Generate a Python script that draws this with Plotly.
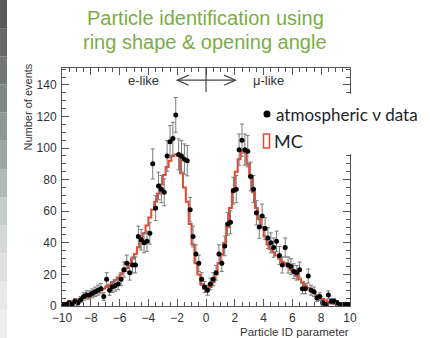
import numpy as np
import plotly.graph_objects as go

# ---------------- data ----------------
BIN_LO, BIN_HI, BIN_W = -10.0, 10.0, 0.2

data_counts = [
    1, 1, 2, 1, 3, 2, 4, 6, 7, 7,
    8, 9, 10, 11, 6, 17, 10, 12, 13, 14,
    17, 23, 27, 21, 26, 26, 44, 42, 40, 41,
    46, 90, 62, 76, 74, 72, 95, 104, 106, 121,
    96, 95, 93, 92, 61, 44, 33, 27, 17, 12,
    10, 14, 17, 21, 33, 27, 38, 52, 53, 73,
    74, 99, 105, 99, 98, 82, 74, 59, 50, 57,
    49, 43, 40, 37, 41, 32, 26, 37, 26, 25,
    22, 21, 23, 11, 11, 19, 10, 9, 5, 6,
    2, 1, 7, 3, 3, 2, 1, 1, 1, 1,
]

data_err = [
    1.0, 1.0, 1.4, 1.0, 1.7, 1.4, 2.0, 2.4, 2.6, 2.6,
    2.8, 3.0, 3.2, 3.3, 2.4, 4.1, 3.2, 3.5, 3.6, 3.7,
    4.1, 4.8, 5.2, 4.6, 5.1, 5.1, 6.6, 6.5, 6.3, 6.4,
    6.8, 9.5, 7.9, 8.7, 8.6, 8.5, 9.7, 10.2, 10.3, 11.0,
    9.8, 9.7, 9.6, 9.6, 7.8, 6.6, 5.7, 5.2, 4.1, 3.5,
    3.2, 3.7, 4.1, 4.6, 5.7, 5.2, 6.2, 7.2, 7.3, 8.5,
    8.6, 9.9, 10.2, 9.9, 9.9, 9.1, 8.6, 7.7, 7.1, 7.5,
    7.0, 6.6, 6.3, 6.1, 6.4, 5.7, 5.1, 6.1, 5.1, 5.0,
    4.7, 4.6, 4.8, 3.3, 3.3, 4.4, 3.2, 3.0, 2.2, 2.4,
    1.4, 1.0, 2.6, 1.7, 1.7, 1.4, 1.0, 1.0, 1.0, 1.0,
]

mc_counts = [
    1.5, 2, 2.5, 3, 3.5, 4, 4.5, 5, 5.5, 6,
    7, 8, 9, 10, 11, 12, 13.5, 15, 16.5, 18,
    20, 22, 24, 27, 30, 33, 37, 42, 46, 51,
    56, 61, 66, 71, 77, 83, 88, 92, 95, 96,
    95, 84, 75, 66, 52, 39, 27, 20, 14, 11,
    11, 12, 15, 20, 27, 33, 40, 50, 62, 74,
    85, 93, 98, 97, 90, 82, 72, 62, 55, 50,
    44, 39, 36, 34, 32, 30, 28, 27, 25, 23,
    21, 19, 17, 15, 13, 11.5, 10, 8.5, 7, 5.5,
    4.5, 3.5, 2.5, 2, 1.5, 1, 1, 0.8, 0.5, 0.5,
]

x_tick_vals = [-10, -8, -6, -4, -2, 0, 2, 4, 6, 8, 10]
y_tick_vals = [0, 20, 40, 60, 80, 100, 120, 140]

title_lines = ["Particle identification using", "ring shape & opening angle"]
x_title = "Particle ID parameter"
y_title = "Number of events"
legend_data = "atmospheric ν data"
legend_mc = "MC"

# ---------------- geometry helpers ----------------
W, H = 430, 338
ML, MR, MT, MB = 62, 80, 68, 32
PW, PH = W - ML - MR, H - MT - MB
Y_TOP = 150.7


def pxx(x):
    return (x - ML) / PW


def pxy(y):
    return (H - MB - y) / PH


edges = np.round(np.arange(BIN_LO, BIN_HI + BIN_W / 2, BIN_W), 3)
centers = (edges[:-1] + edges[1:]) / 2

MC_COLOR = "#e9472d"
AX_COLOR = "#555555"
TXT_COLOR = "#333333"

fig = go.Figure()

fig.add_trace(go.Scatter(
    x=list(edges), y=mc_counts + [mc_counts[-1]], mode="lines",
    line=dict(color=MC_COLOR, width=2, shape="hv"), hoverinfo="skip",
))
fig.add_trace(go.Scatter(
    x=centers, y=data_counts, mode="markers",
    marker=dict(color="black", size=5),
    error_y=dict(type="data", array=data_err, color="#7a7a7a", thickness=1, width=2),
))

axis_common = dict(
    showline=True, linecolor=AX_COLOR, linewidth=1, mirror="allticks",
    ticks="inside", ticklen=7, tickcolor=AX_COLOR, tickwidth=1,
    showgrid=False, zeroline=False,
    tickfont=dict(family="Liberation Sans, Arial, sans-serif", size=12, color=TXT_COLOR),
)

fig.update_layout(
    width=W, height=H,
    margin=dict(l=ML, r=MR, t=MT, b=MB),
    paper_bgcolor="white", plot_bgcolor="white",
    showlegend=False,
    xaxis=dict(range=[BIN_LO, BIN_HI], tickvals=x_tick_vals, ticklabelstandoff=1,
               minor=dict(dtick=0.5, tick0=0, ticks="inside", ticklen=4, tickcolor=AX_COLOR),
               **axis_common),
    yaxis=dict(range=[0, Y_TOP], tickvals=y_tick_vals, ticklabelstandoff=2,
               minor=dict(dtick=5, tick0=0, ticks="inside", ticklen=4, tickcolor=AX_COLOR),
               **axis_common),
)

annotations = []
# title
for txt, yy in zip(title_lines, [18, 42]):
    annotations.append(dict(
        text=txt, xref="paper", yref="paper", x=pxx(205), y=pxy(yy),
        xanchor="center", yanchor="middle", showarrow=False,
        font=dict(family="Liberation Sans, Arial, sans-serif", size=20, color="#7cad45"),
    ))
# e-like / mu-like
annotations.append(dict(text="e-like", xref="paper", yref="paper", x=pxx(161), y=pxy(80),
                        xanchor="right", yanchor="middle", showarrow=False,
                        font=dict(family="Liberation Sans, Arial, sans-serif", size=13, color=TXT_COLOR)))
annotations.append(dict(text="μ-like", xref="paper", yref="paper", x=pxx(251), y=pxy(80),
                        xanchor="left", yanchor="middle", showarrow=False,
                        font=dict(family="Liberation Sans, Arial, sans-serif", size=13, color=TXT_COLOR)))
# axis titles
annotations.append(dict(text=y_title, xref="paper", yref="paper", x=pxx(27), y=pxy(62),
                        xanchor="center", yanchor="top", textangle=-90, showarrow=False,
                        font=dict(family="Liberation Sans, Arial, sans-serif", size=11, color=TXT_COLOR)))
annotations.append(dict(text=x_title, xref="paper", yref="paper", x=pxx(351), y=pxy(332),
                        xanchor="right", yanchor="middle", showarrow=False,
                        font=dict(family="Liberation Sans, Arial, sans-serif", size=11.5, color=TXT_COLOR)))
# legend
annotations.append(dict(text=legend_data, xref="paper", yref="paper", x=pxx(274), y=pxy(114),
                        xanchor="left", yanchor="middle", showarrow=False,
                        font=dict(family="Lato, sans-serif", size=17, color="#1e1e28")))
annotations.append(dict(text=legend_mc, xref="paper", yref="paper", x=pxx(272), y=pxy(141),
                        xanchor="left", yanchor="middle", showarrow=False,
                        font=dict(family="Lato, sans-serif", size=18, color="#1e1e28")))
fig.update_layout(annotations=annotations)

shapes = []
# left slide-edge gradient strip
strip_cols = ["#5a5a5a", "#666868", "#737676", "#818686", "#909696", "#a0a6a6",
              "#b2b8b8", "#c4caca", "#d4d8d8", "#e0e2e2", "#e8e8e8", "#eeeeee"]
n = len(strip_cols)
for i, c in enumerate(strip_cols):
    y0 = H * i / n
    y1 = H * (i + 1) / n
    shapes.append(dict(type="rect", xref="paper", yref="paper",
                       x0=pxx(0), x1=pxx(7), y0=pxy(y1), y1=pxy(y0),
                       fillcolor=c, line=dict(width=0), layer="below"))
# white box behind the legend (hides the right axis there)
shapes.append(dict(type="rect", xref="paper", yref="paper",
                   x0=pxx(259), x1=pxx(430), y0=pxy(154), y1=pxy(94),
                   fillcolor="white", line=dict(width=0), layer="above"))
# legend marker dot
shapes.append(dict(type="circle", xref="paper", yref="paper",
                   x0=pxx(263.5), x1=pxx(270.5), y0=pxy(117.5), y1=pxy(110.5),
                   fillcolor="black", line=dict(width=0), layer="above"))
# legend MC box
shapes.append(dict(type="rect", xref="paper", yref="paper",
                   x0=pxx(263.5), x1=pxx(269.5), y0=pxy(148), y1=pxy(134),
                   fillcolor="rgba(0,0,0,0)", line=dict(color=MC_COLOR, width=1.5), layer="above"))
# e-like <-|-> mu-like arrow
AR = dict(color="#444444", width=1.2)
shapes.append(dict(type="line", xref="x", yref="y", x0=-2.0, x1=2.05, y0=143, y1=143, line=AR))
shapes.append(dict(type="line", xref="x", yref="y", x0=0, x1=0, y0=135.5, y1=Y_TOP, line=AR))
shapes.append(dict(type="path", xref="x", yref="y",
                   path="M -1.2,146.2 L -2.0,143 L -1.2,139.8", line=AR))
shapes.append(dict(type="path", xref="x", yref="y",
                   path="M 1.25,146.2 L 2.05,143 L 1.25,139.8", line=AR))
fig.update_layout(shapes=shapes)

fig.write_html("out.html")
